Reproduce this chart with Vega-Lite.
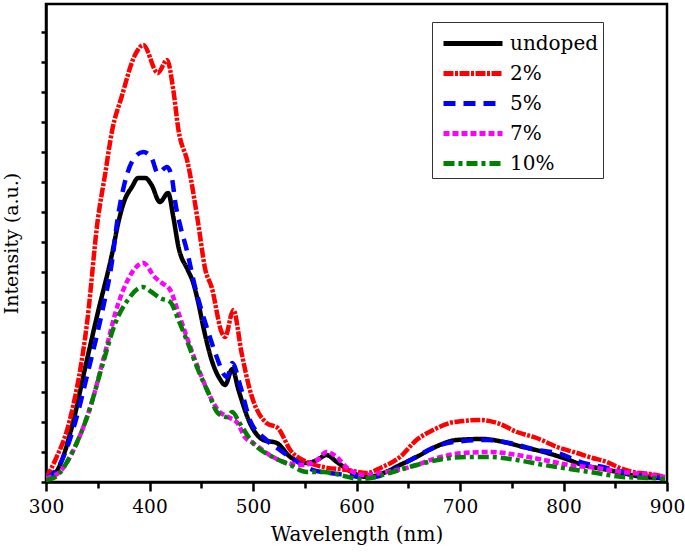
{
  "$schema": "https://vega.github.io/schema/vega-lite/v6.json",
  "width": 621,
  "height": 478,
  "autosize": {"type": "none"},
  "padding": {"left": 46, "top": 4, "right": 18, "bottom": 70},
  "config": {
    "view": {"stroke": "black", "strokeWidth": 2.5},
    "font": "DejaVu Serif"
  },
  "datasets": {
    "spectra": [
      {"s":"undoped","w":300,"i":4},{"s":"undoped","w":309,"i":9},{"s":"undoped","w":325,"i":55},{"s":"undoped","w":338,"i":115},{"s":"undoped","w":350,"i":169},{"s":"undoped","w":364,"i":229},{"s":"undoped","w":370,"i":260},{"s":"undoped","w":376,"i":282},{"s":"undoped","w":383,"i":295},{"s":"undoped","w":389,"i":304},{"s":"undoped","w":396,"i":304},{"s":"undoped","w":402,"i":297},{"s":"undoped","w":410,"i":280},{"s":"undoped","w":418,"i":289},{"s":"undoped","w":423,"i":265},{"s":"undoped","w":428,"i":235},{"s":"undoped","w":437,"i":212},{"s":"undoped","w":442,"i":200},{"s":"undoped","w":447,"i":180},{"s":"undoped","w":452,"i":155},{"s":"undoped","w":461,"i":119},{"s":"undoped","w":468,"i":103},{"s":"undoped","w":473,"i":97},{"s":"undoped","w":480,"i":113},{"s":"undoped","w":486,"i":92},{"s":"undoped","w":497,"i":59},{"s":"undoped","w":510,"i":42},{"s":"undoped","w":523,"i":39},{"s":"undoped","w":536,"i":25},{"s":"undoped","w":552,"i":19},{"s":"undoped","w":562,"i":22},{"s":"undoped","w":571,"i":27},{"s":"undoped","w":581,"i":20},{"s":"undoped","w":597,"i":9},{"s":"undoped","w":610,"i":5},{"s":"undoped","w":626,"i":9},{"s":"undoped","w":642,"i":17},{"s":"undoped","w":658,"i":25},{"s":"undoped","w":674,"i":34},{"s":"undoped","w":697,"i":42},{"s":"undoped","w":722,"i":43},{"s":"undoped","w":742,"i":40},{"s":"undoped","w":761,"i":35},{"s":"undoped","w":781,"i":30},{"s":"undoped","w":800,"i":24},{"s":"undoped","w":819,"i":17},{"s":"undoped","w":838,"i":13},{"s":"undoped","w":857,"i":9},{"s":"undoped","w":877,"i":5},{"s":"undoped","w":898,"i":4},
      {"s":"2%","w":300,"i":4},{"s":"2%","w":309,"i":22},{"s":"2%","w":323,"i":62},{"s":"2%","w":340,"i":162},{"s":"2%","w":350,"i":262},{"s":"2%","w":357,"i":307},{"s":"2%","w":364,"i":352},{"s":"2%","w":373,"i":385},{"s":"2%","w":386,"i":427},{"s":"2%","w":394,"i":437},{"s":"2%","w":408,"i":409},{"s":"2%","w":417,"i":422},{"s":"2%","w":423,"i":392},{"s":"2%","w":428,"i":352},{"s":"2%","w":437,"i":319},{"s":"2%","w":447,"i":259},{"s":"2%","w":454,"i":212},{"s":"2%","w":460,"i":195},{"s":"2%","w":470,"i":149},{"s":"2%","w":473,"i":145},{"s":"2%","w":481,"i":172},{"s":"2%","w":489,"i":129},{"s":"2%","w":497,"i":92},{"s":"2%","w":513,"i":59},{"s":"2%","w":524,"i":54},{"s":"2%","w":536,"i":32},{"s":"2%","w":552,"i":20},{"s":"2%","w":568,"i":15},{"s":"2%","w":591,"i":12},{"s":"2%","w":610,"i":9},{"s":"2%","w":623,"i":14},{"s":"2%","w":642,"i":25},{"s":"2%","w":658,"i":42},{"s":"2%","w":674,"i":52},{"s":"2%","w":690,"i":59},{"s":"2%","w":703,"i":61},{"s":"2%","w":719,"i":62},{"s":"2%","w":736,"i":59},{"s":"2%","w":755,"i":50},{"s":"2%","w":774,"i":44},{"s":"2%","w":794,"i":35},{"s":"2%","w":813,"i":29},{"s":"2%","w":828,"i":24},{"s":"2%","w":842,"i":20},{"s":"2%","w":852,"i":15},{"s":"2%","w":867,"i":10},{"s":"2%","w":884,"i":8},{"s":"2%","w":898,"i":5},
      {"s":"5%","w":300,"i":4},{"s":"5%","w":312,"i":15},{"s":"5%","w":328,"i":59},{"s":"5%","w":341,"i":112},{"s":"5%","w":354,"i":169},{"s":"5%","w":364,"i":222},{"s":"5%","w":369,"i":262},{"s":"5%","w":376,"i":299},{"s":"5%","w":386,"i":325},{"s":"5%","w":394,"i":330},{"s":"5%","w":402,"i":324},{"s":"5%","w":408,"i":309},{"s":"5%","w":417,"i":315},{"s":"5%","w":422,"i":302},{"s":"5%","w":425,"i":279},{"s":"5%","w":430,"i":255},{"s":"5%","w":436,"i":232},{"s":"5%","w":444,"i":195},{"s":"5%","w":451,"i":169},{"s":"5%","w":457,"i":149},{"s":"5%","w":466,"i":122},{"s":"5%","w":471,"i":109},{"s":"5%","w":475,"i":105},{"s":"5%","w":480,"i":119},{"s":"5%","w":488,"i":95},{"s":"5%","w":497,"i":62},{"s":"5%","w":513,"i":42},{"s":"5%","w":526,"i":32},{"s":"5%","w":540,"i":22},{"s":"5%","w":558,"i":12},{"s":"5%","w":574,"i":9},{"s":"5%","w":591,"i":7},{"s":"5%","w":610,"i":4},{"s":"5%","w":626,"i":7},{"s":"5%","w":652,"i":22},{"s":"5%","w":681,"i":37},{"s":"5%","w":703,"i":41},{"s":"5%","w":726,"i":42},{"s":"5%","w":748,"i":39},{"s":"5%","w":774,"i":32},{"s":"5%","w":794,"i":29},{"s":"5%","w":819,"i":19},{"s":"5%","w":838,"i":15},{"s":"5%","w":861,"i":9},{"s":"5%","w":884,"i":5},{"s":"5%","w":898,"i":4},
      {"s":"7%","w":300,"i":4},{"s":"7%","w":312,"i":9},{"s":"7%","w":328,"i":35},{"s":"7%","w":344,"i":79},{"s":"7%","w":357,"i":129},{"s":"7%","w":370,"i":179},{"s":"7%","w":379,"i":202},{"s":"7%","w":394,"i":219},{"s":"7%","w":405,"i":205},{"s":"7%","w":412,"i":199},{"s":"7%","w":420,"i":192},{"s":"7%","w":428,"i":169},{"s":"7%","w":437,"i":142},{"s":"7%","w":447,"i":114},{"s":"7%","w":457,"i":89},{"s":"7%","w":466,"i":72},{"s":"7%","w":476,"i":65},{"s":"7%","w":485,"i":59},{"s":"7%","w":492,"i":45},{"s":"7%","w":500,"i":39},{"s":"7%","w":516,"i":27},{"s":"7%","w":533,"i":19},{"s":"7%","w":548,"i":17},{"s":"7%","w":562,"i":22},{"s":"7%","w":571,"i":30},{"s":"7%","w":581,"i":25},{"s":"7%","w":591,"i":14},{"s":"7%","w":607,"i":7},{"s":"7%","w":623,"i":9},{"s":"7%","w":652,"i":15},{"s":"7%","w":678,"i":24},{"s":"7%","w":703,"i":29},{"s":"7%","w":729,"i":30},{"s":"7%","w":755,"i":27},{"s":"7%","w":781,"i":22},{"s":"7%","w":806,"i":17},{"s":"7%","w":832,"i":14},{"s":"7%","w":857,"i":10},{"s":"7%","w":884,"i":7},{"s":"7%","w":898,"i":5},
      {"s":"10%","w":300,"i":2},{"s":"10%","w":309,"i":5},{"s":"10%","w":325,"i":29},{"s":"10%","w":341,"i":69},{"s":"10%","w":354,"i":115},{"s":"10%","w":367,"i":159},{"s":"10%","w":379,"i":182},{"s":"10%","w":393,"i":195},{"s":"10%","w":402,"i":190},{"s":"10%","w":410,"i":184},{"s":"10%","w":420,"i":180},{"s":"10%","w":428,"i":162},{"s":"10%","w":437,"i":139},{"s":"10%","w":447,"i":112},{"s":"10%","w":457,"i":89},{"s":"10%","w":466,"i":69},{"s":"10%","w":475,"i":65},{"s":"10%","w":480,"i":70},{"s":"10%","w":487,"i":59},{"s":"10%","w":500,"i":39},{"s":"10%","w":519,"i":25},{"s":"10%","w":536,"i":17},{"s":"10%","w":552,"i":10},{"s":"10%","w":568,"i":10},{"s":"10%","w":584,"i":7},{"s":"10%","w":603,"i":3},{"s":"10%","w":613,"i":4},{"s":"10%","w":635,"i":10},{"s":"10%","w":658,"i":17},{"s":"10%","w":684,"i":23},{"s":"10%","w":707,"i":25},{"s":"10%","w":729,"i":25},{"s":"10%","w":755,"i":22},{"s":"10%","w":781,"i":17},{"s":"10%","w":806,"i":13},{"s":"10%","w":832,"i":9},{"s":"10%","w":857,"i":5},{"s":"10%","w":884,"i":4},{"s":"10%","w":898,"i":3}
    ]
  },
  "data": {"name": "spectra"},
  "mark": {"type": "line", "strokeWidth": 4.5, "clip": true, "interpolate": "monotone"},
  "encoding": {
    "x": {
      "field": "w", "type": "quantitative",
      "scale": {"domain": [300, 900], "nice": false, "zero": false},
      "axis": {
        "title": "Wavelength (nm)",
        "values": [300, 350, 400, 450, 500, 550, 600, 650, 700, 750, 800, 850, 900],
        "labelExpr": "datum.value % 100 === 0 ? datum.label : ''",
        "grid": false,
        "domainColor": "black", "domainWidth": 2.5,
        "tickColor": "black", "tickWidth": 2.5,
        "tickSize": {"condition": {"test": "datum.value % 100 === 0", "value": 9}, "value": 6},
        "labelFont": "DejaVu Serif", "labelFontSize": 18.5, "labelColor": "black", "labelPadding": 6,
        "labelFlush": false, "labelOverlap": false,
        "titleFont": "DejaVu Serif", "titleFontSize": 20, "titleFontWeight": "normal", "titleColor": "black", "titlePadding": 9
      }
    },
    "y": {
      "field": "i", "type": "quantitative",
      "scale": {"domain": [0, 478], "nice": false},
      "axis": {
        "title": "Intensity (a.u.)",
        "values": [0, 30, 60, 90, 120, 150, 180, 210, 240, 270, 300, 330, 360, 390, 420, 450],
        "labels": false, "grid": false,
        "domainColor": "black", "domainWidth": 2.5,
        "tickColor": "black", "tickWidth": 2.5, "tickSize": 5,
        "titleFont": "DejaVu Serif", "titleFontSize": 19, "titleFontWeight": "normal", "titleColor": "black", "titlePadding": 18
      }
    },
    "color": {
      "field": "s", "type": "nominal",
      "sort": ["undoped", "2%", "5%", "7%", "10%"],
      "scale": {"domain": ["undoped", "2%", "5%", "7%", "10%"], "range": ["#000000", "#ff0000", "#0000ff", "#ff00ff", "#008000"]},
      "legend": {
        "title": null, "orient": "none", "legendX": 386, "legendY": 18,
        "symbolType": "M-0.667,0H3.267", "symbolSize": 900, "symbolStrokeWidth": 5,
        "labelFont": "DejaVu Serif", "labelFontSize": 20, "labelColor": "black", "labelOffset": 39,
        "rowPadding": 2, "padding": 4,
        "strokeColor": "#333333", "fillColor": "white"
      }
    },
    "strokeDash": {
      "field": "s", "type": "nominal",
      "sort": ["undoped", "2%", "5%", "7%", "10%"],
      "scale": {"domain": ["undoped", "2%", "5%", "7%", "10%"], "range": [[1, 0], [10, 1.5, 3, 1.5], [12, 8], [6, 3], [11, 4, 4, 4]]}
    },
    "order": {"field": "w", "type": "quantitative"}
  }
}
